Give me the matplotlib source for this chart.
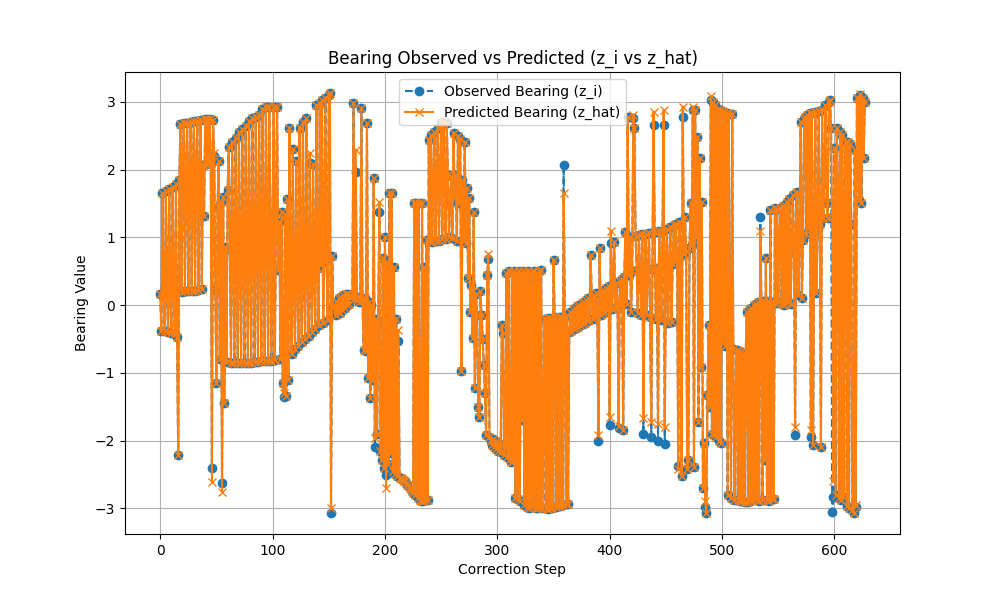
import matplotlib
matplotlib.use("Agg")
import matplotlib.pyplot as plt
import numpy as np

# --- observed bearing (z_i), one value per correction step ---
obs_0 = [0.17, -0.38, 1.65, 0.17, -0.39, 1.68, 0.18, -0.40, 1.71, 0.18, -0.41, 1.74,
         0.19, -0.43, 1.78, -0.47, -2.22]
obs_17 = [1.85, 2.67, 0.19, 1.98, 2.68, 0.20, 2.00, 2.69, 0.20, 2.01, 2.70, 0.21, 2.02,
          2.71, 0.21, 2.04, 2.72, 0.22, 2.05, 2.73, 0.24, 2.07, 1.31, 2.74, 2.08, 2.74,
          2.09, 2.75, 2.10]
obs_46 = [-2.41, 2.73, 2.20, 0.22, -1.15, 1.45, 2.12, -0.80, 1.52, -2.63, 1.60, -1.45,
          0.85, -0.84, 1.70]
obs_61 = [2.33, 0.82, -0.85, 2.40, 0.83, -0.85, 2.47, 0.84, -0.86, 2.55, 0.85, -0.86,
          2.60, 0.86, -0.86, 2.65, 0.88, -0.85, 2.72, 0.90, -0.85, 2.76, 1.00, -0.84,
          2.77, 1.05, -0.84, 2.80, 1.10, -0.83, 2.90, 1.15, -0.83, 2.93, 1.20, -0.82,
          2.93, 1.27, -0.82, 1.33]
obs_101 = [2.93, -0.81, 1.37, 2.93, 0.52, 1.23, -0.80, 1.37, -1.15, -1.36, 1.35, -1.34,
           1.57, -1.10, 2.62, 0.20, -0.72, 2.30, 0.25, -0.65, 2.12, 0.28, -0.60, 2.62,
           0.32, -0.55, 2.70, 0.35, -0.50, 2.76, 0.40, -0.45, 2.10, 0.45, -0.40, 2.08,
           0.50, -0.35, 2.95, 0.55, -0.30, 2.98, 0.60, 3.03, -0.27, 0.65, 3.06, 0.70,
           -0.22, 3.10, 3.13, -3.07]
obs_153 = [0.72, -0.05, 0.00, -0.15, 0.05, -0.10, 0.10, -0.12, 0.12, -0.08, 0.15, -0.05,
           0.17, 0.00, 0.16, 0.02, 0.15, 0.10, 0.12, 2.98, 0.10, 1.97, 0.08, 0.12, 0.05,
           0.10, 2.91, 0.08, -0.66, 0.10, -0.68, 2.69, -1.08, 0.05, -1.37, 0.00, -1.10,
           1.87, -2.10, -0.20, -1.90, -0.30, 1.37, -2.15, -2.29, 0.70, -2.40, 1.00, -2.51,
           0.63, -2.34, 1.65, -2.18]
obs_206 = [1.65, -2.45, 0.56, -2.50, -0.20, -2.52, -0.53, -2.55, -2.55, -2.57, -2.58,
           -2.60, -2.60, -2.62, -2.65, -2.67, -2.70, -2.72, -2.75, -2.78, 1.50, -2.80,
           1.50, -2.85, 1.50, -2.88, -2.90, 1.50, -2.90, 0.56, -2.88, 0.96, -2.88, 2.44,
           0.95]
obs_241 = [2.51, 0.93, 1.80, 2.55, 0.95, 1.85, 2.62, 0.95, 1.88, 2.70, 0.97, 2.70, 1.90,
           0.98, 2.68, 1.92, 1.00, 1.50, 1.90, 0.99, 2.54, 1.60, 1.92, 0.95, 2.50]
obs_266 = [1.50, 2.45, -0.98, 1.85, 0.95, 2.41, 0.92, 1.73, 0.40, 1.58, -0.10, 0.30,
           -0.49, 1.37, -1.23, 0.17, -0.15, -1.51, -1.65, 0.20, -0.15, -0.50, -0.89,
           -1.30, -1.92, 0.45, 0.68, -1.95, -2.00, -2.07, -1.98, -2.10, -2.00, -2.12,
           -2.02, -2.15, -2.05, -2.17, -0.30, -0.41, -2.22, -2.10, 0.48, -2.25, 0.50,
           -2.28, -2.32]
obs_313 = [0.49, -2.30, 0.50, -2.85, 0.48, -2.87, 0.50, -2.90, 0.47, -1.70, 0.50, -2.95,
           0.48, -2.98, 0.50, -3.00, 0.47, -2.97, 0.49, -2.98, 0.50, -2.99, 0.48, -3.00,
           0.50, -2.98, 0.52, -3.00, -1.87, -0.20, -3.00, -0.20, -3.01, -0.19, -3.00,
           -0.20, -2.99, 0.67, -0.18, -2.98, -0.20, -2.97, -0.18, -2.96, -0.17, -2.95,
           2.07, -0.17, -2.94, -0.15, -2.93]
obs_364 = [-0.40, -0.10, -0.38, -0.08, -0.36, -0.05, -0.34, -0.02, -0.32, 0.00, -0.30,
           0.03, -0.28, 0.05, -0.26, 0.08, -0.24, 0.10, -0.22, 0.74, 0.12, -0.20, 0.15,
           -0.18, 0.18, -0.16, -2.00, 0.84, -0.14, 0.20, -0.12, 0.22, -0.10, 0.25, -0.08,
           0.28, -1.77, 0.92, -0.06, 0.30, 0.93, -0.05, 0.33, -0.03, -1.82, 0.36, 0.00,
           0.38, -1.85, 0.42, 1.08, 0.02]
obs_416 = [2.78, 0.45, 1.00, -0.10, 0.50, 2.76, 2.62, 1.02, 0.52, -0.12, 1.03, 0.50,
           -0.15, 1.05, -1.90, 0.52, 1.05, -0.15, 0.53, 1.07, -0.18, -1.95, 0.53, 2.66,
           1.08, -0.20, 0.54, -2.00, 1.10, 0.55, -0.22, 1.10, 2.66, -2.05, 0.55, 1.12,
           -0.27, 0.56, 1.15, -0.25, 0.60, 1.18, 0.65, 1.20, 0.70, -2.37, 1.23, 0.72,
           -2.53, 2.78, 0.75, 1.30, 0.80, -2.42, -2.29, 0.84, 1.50]
obs_473 = [0.88, 2.88, -2.39, 2.88, 1.00, 2.48, -1.73, 2.17, -0.92, 1.52, -2.70, -2.04,
           -2.98, -3.07, -1.33, -0.30, -1.50, 3.03, -1.90, 3.00, -1.92, 2.95, -1.95, 2.90,
           -2.00, 2.88, -2.04, 2.86, -0.56, 2.85, -0.60, 2.84, -2.80, 2.82, -0.62, -2.85,
           2.82, -0.65, -2.88, -1.30, -0.67, -2.88, -0.68, -2.90, -0.70, -2.90, -0.72,
           -2.91, -0.73, -0.10, -2.91, -0.08, -2.90]
obs_526 = [-0.05, -2.88, 0.00, -2.87, 0.02, -2.88, 0.04, -2.89, 1.30, 0.05, -2.88, 0.06,
           -2.29, 0.69, -2.88, 0.06, -2.90, 1.40, -2.87, 0.05, -2.86, 1.43, 0.03, 1.42,
           0.04, 1.00, 1.43, 0.02, 1.46, 0.00, 1.48, 0.03, 1.52, 0.05, 1.56, 0.02, 0.86,
           1.62, 0.96, -1.92, 1.65, 1.67, 0.15, 1.00, 2.70, 0.10, 0.96, 2.74, 2.78, 1.05,
           2.80, 1.13, 2.84, -1.95]
obs_580 = [2.84, -2.07, 1.08, 2.85, 0.18, 1.13, 2.87, 1.20, -2.10, 2.88, 1.28, 1.85,
           2.95, 1.50, 1.28, 3.00, 3.03, 2.62, -3.05, -2.84, 2.32, -2.80, 2.62, 1.80,
           -2.85, 2.55, -2.88, 2.51, -2.84, 1.60, 2.41, -2.96, 2.40, -3.00, 2.37, 1.20,
           -3.03, -3.07, 2.29, -2.98, 3.06, 3.05, 1.55, 3.10, 1.51, 3.05, 2.17, 3.00]

# --- predicted bearing (z_hat): same as observed except at these steps ---
pred_steps = [46, 48, 55, 110, 133, 152, 174, 191, 195, 201, 212, 292, 359, 390, 400,
              401, 408, 421, 430, 437, 439, 443, 448, 449, 461, 465, 474, 485, 490, 534,
              565, 579, 598, 599, 619, 623]
pred_values = [-2.61, 2.25, -2.76, -1.30, 2.25, -3.00, 2.29, -1.97, 1.52, -2.70, -0.37,
               0.76, 1.65, -1.92, -1.65, 1.10, -1.78, 2.80, -1.67, -1.72, 2.85, -1.75,
               2.88, -1.80, -2.42, 2.93, 2.93, -2.90, 3.08, 1.10, -1.80, -1.85, 1.30,
               -2.60, -2.95, 3.12]

z_i = np.array(obs_0 + obs_17 + obs_46 + obs_61 + obs_101 + obs_153 + obs_206 + obs_241
               + obs_266 + obs_313 + obs_364 + obs_416 + obs_473 + obs_526 + obs_580)
z_hat = z_i.copy()
z_hat[pred_steps] = pred_values
steps = np.arange(len(z_i))

fig, ax = plt.subplots(figsize=(10, 6), dpi=100)
ax.plot(steps, z_i, marker="o", linestyle="--", label="Observed Bearing (z_i)")
ax.plot(steps, z_hat, marker="x", linestyle="-", label="Predicted Bearing (z_hat)")
ax.set_title("Bearing Observed vs Predicted (z_i vs z_hat)")
ax.set_xlabel("Correction Step")
ax.set_ylabel("Bearing Value")
ax.grid(True)
ax.legend(loc="upper center")
fig.savefig("out.png")
